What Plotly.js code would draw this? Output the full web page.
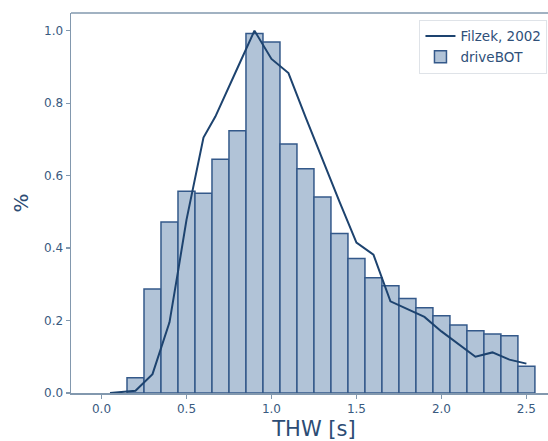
<!DOCTYPE html>
<html>
<head>
<meta charset="utf-8">
<script src="https://cdn.plot.ly/plotly-3.0.1.min.js"></script>
<style>
html, body { margin: 0; padding: 0; overflow: hidden; background: #ffffff; }
#chart { width: 560px; height: 441px; }
</style>
</head>
<body>
<div id="chart"></div>
<script>
// driveBOT histogram (bin centres, bin width 0.1 s)
const binCenters = [0.2, 0.3, 0.4, 0.5, 0.6, 0.7, 0.8, 0.9, 1.0, 1.1, 1.2, 1.3,
                    1.4, 1.5, 1.6, 1.7, 1.8, 1.9, 2.0, 2.1, 2.2, 2.3, 2.4, 2.5];
const driveBOT = [0.042, 0.287, 0.472, 0.557, 0.551, 0.645, 0.724, 0.992, 0.969, 0.687, 0.619, 0.541,
                  0.440, 0.371, 0.318, 0.296, 0.261, 0.235, 0.213, 0.188, 0.172, 0.163, 0.158, 0.074];

// Filzek, 2002 reference curve
const filzekX = [0.05, 0.1, 0.2, 0.3, 0.4, 0.45, 0.5, 0.6, 0.67, 0.8, 0.9, 1.0, 1.1, 1.2, 1.3, 1.4,
                 1.5, 1.6, 1.7, 1.8, 1.9, 2.0, 2.1, 2.2, 2.3, 2.4, 2.5];
const filzekY = [0.0, 0.002, 0.006, 0.052, 0.195, 0.335, 0.478, 0.705, 0.763, 0.897, 1.0, 0.922, 0.883, 0.762, 0.643, 0.528,
                 0.415, 0.382, 0.253, 0.231, 0.210, 0.170, 0.134, 0.100, 0.112, 0.092, 0.081];

const binWidth = 0.1;

const spine = '#8298ae';
const textCol = '#3a5a80';

const traces = [
  {
    type: 'scatter', mode: 'lines', name: 'Filzek, 2002',
    x: filzekX, y: filzekY,
    line: { color: '#1d436f', width: 2 },
    hoverinfo: 'skip'
  },
  {
    type: 'bar', name: 'driveBOT',
    x: binCenters, y: driveBOT,
    width: binCenters.map(() => binWidth),
    marker: { color: '#b1c3d7', line: { color: '#34598a', width: 1.5 } },
    hoverinfo: 'skip'
  }
];

const layout = {
  width: 560, height: 441,
  margin: { l: 71, r: 3, t: 13, b: 48 },
  paper_bgcolor: '#ffffff', plot_bgcolor: '#ffffff',
  font: { family: 'DejaVu Sans, sans-serif', color: textCol, size: 12 },
  bargap: 0,
  showlegend: true,
  legend: {
    x: 0.717, y: 0.982, xanchor: 'left', yanchor: 'top',
    bgcolor: '#ffffff', bordercolor: '#dfe3e8', borderwidth: 1,
    font: { size: 13.5, color: '#2f5079' },
    traceorder: 'normal'
  },
  xaxis: {
    range: [-0.1795, 2.68],
    tickvals: [0, 0.5, 1.0, 1.5, 2.0, 2.5],
    ticktext: ['0.0', '0.5', '1.0', '1.5', '2.0', '2.5'],
    ticks: 'outside', ticklen: 4, tickwidth: 1.2, tickcolor: spine,
    showline: true, linecolor: spine, linewidth: 1.5,
    showgrid: false, zeroline: false,
    tickfont: { size: 12, color: textCol },
    title: { text: 'THW [s]', font: { size: 21, color: '#2c4c74' }, standoff: 6 }
  },
  yaxis: {
    range: [0, 1.0488],
    tickvals: [0, 0.2, 0.4, 0.6, 0.8, 1.0],
    ticktext: ['0.0', '0.2', '0.4', '0.6', '0.8', '1.0'],
    ticks: 'outside', ticklen: 4, tickwidth: 1.2, tickcolor: spine,
    showline: true, linecolor: spine, linewidth: 1.5,
    showgrid: false, zeroline: false,
    tickfont: { size: 12, color: textCol },
    title: { text: '%', font: { size: 20, color: '#2c4c74' }, standoff: 10 }
  },
  shapes: [
    { type: 'line', xref: 'paper', yref: 'paper', x0: 0, x1: 1, y0: 1, y1: 1,
      line: { color: spine, width: 1.5 } }
  ]
};

Plotly.newPlot('chart', traces, layout, { displayModeBar: false, staticPlot: true });
</script>
</body>
</html>
